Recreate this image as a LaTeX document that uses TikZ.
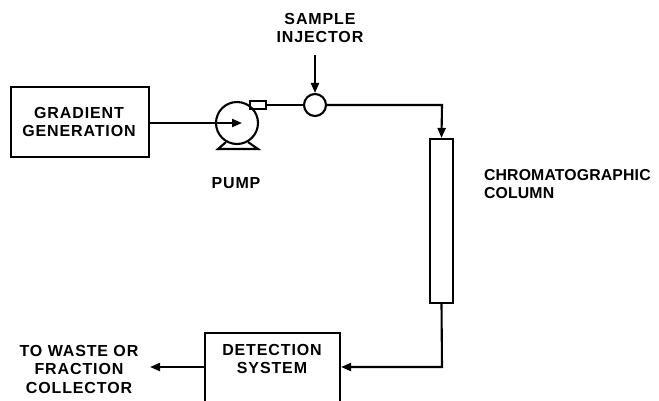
\documentclass[tikz,border=0pt]{standalone}
\usepackage{fontspec}
\setmainfont{Liberation Sans}[LetterSpace=5.5]
\usetikzlibrary{arrows.meta}
\begin{document}
\begin{tikzpicture}[x=1pt,y=-1pt,
  line width=2.1pt,
  flow/.style={-{Triangle[length=10pt,width=8pt]}},
  lbl/.style={font=\fontsize{16}{18.5}\selectfont\bfseries,align=center,inner sep=0pt},
  box/.style={draw,rectangle,inner sep=0pt}]
\useasboundingbox (0,0) rectangle (659,400);
\clip (0,0) rectangle (659,400);
% nodes
\node[box,minimum width=138pt,minimum height=70pt] (grad) at (80,122) {};
\node[lbl] (gradtext) at (79,122) {GRADIENT\\GENERATION};
\node[draw,circle,minimum size=42pt,inner sep=0pt] (pump) at (237,123) {};
\node[draw,circle,minimum size=22pt,inner sep=0pt] (inj) at (315,105) {};
\node[box,minimum width=23pt,minimum height=164pt] (col) at (441.5,221) {};
\node[box,minimum width=135pt,minimum height=80pt] (det) at (272.5,373) {};
\node[lbl] (dettext) at (272,359) {DETECTION\\SYSTEM};
\node[lbl] (injtext) at (320,28) {SAMPLE\\INJECTOR};
\node[lbl] (pumptext) at (236,183) {PUMP};
\node[lbl,align=left,anchor=west,font=\fontsize{15.8}{18.5}\selectfont\bfseries\addfontfeatures{LetterSpace=1}] (coltext) at (483,184) {CHROMATOGRAPHIC\\COLUMN};
\node[lbl] (wastetext) at (79,369) {TO WASTE OR\\FRACTION\\COLLECTOR};
% pump details
\node[box,minimum width=16pt,minimum height=8pt] (nozzle) at (258,105) {};
\draw (pump.-120) -- (218,149) -- (258,149) -- (pump.-60);
% connectors
\coordinate (pin) at (242,123);
\coordinate (injin) at (315,55);
\coordinate (out) at (150,367);
\coordinate (c1) at (442,105);
\coordinate (c2) at (442,367);
\draw[flow] (grad.east |- pin) -- (pin);
\draw (nozzle.east) -- (inj.west);
\draw[flow] (injin) -- (inj.north);
\draw[flow] (inj.east) -- (c1) -- (col.north);
\draw[flow] (col.south) -- (c2) -- (det.east |- c2);
\draw[flow] (det.west |- out) -- (out);
\end{tikzpicture}
\end{document}
